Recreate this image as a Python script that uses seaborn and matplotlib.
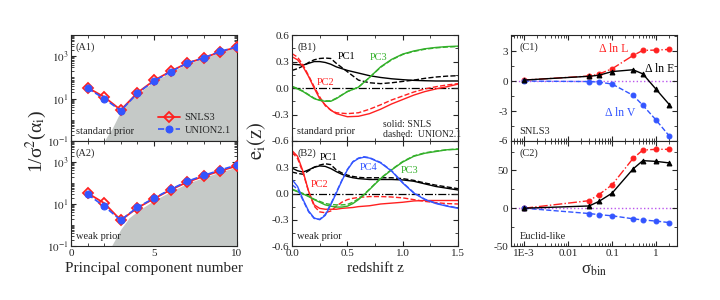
import numpy as np
import pandas as pd
import seaborn as sns
import matplotlib
matplotlib.use('Agg')
from matplotlib import pyplot as plt
from matplotlib.ticker import FixedLocator, MultipleLocator, NullFormatter

# ---------------- data ----------------
# panel A: inverse variance of PC coefficients
pc_num = [1, 2, 3, 4, 5, 6, 7, 8, 9, 10]
a1_snls = [33, 12, 2.9, 19, 72, 195, 480, 830, 1660, 2700]
a1_union = [31, 10, 2.7, 18, 68, 185, 470, 850, 1700, 2800]
a2_snls = [33, 11, 1.7, 6.5, 18, 47, 110, 210, 380, 650]
a2_union = [29, 7.8, 1.7, 7.0, 19, 50, 120, 230, 420, 720]
shade1_n = [1.9, 2, 2.5, 3, 3.5, 4, 5, 6, 7, 8, 9, 10]
shade1_v = [0.06, 0.1, 0.42, 2.6, 8, 17, 65, 175, 440, 800, 1550, 2700]
shade2_n = [2.35, 2.44, 3, 3.5, 4, 5, 6, 7, 8, 9, 10]
shade2_v = [0.05, 0.1, 0.63, 2.2, 4.5, 15, 39, 96, 185, 340, 580]

# panel B1: PC shapes, standard prior
zb = [0, 0.05, 0.1, 0.15, 0.2, 0.25, 0.3, 0.35, 0.4, 0.5, 0.6, 0.7, 0.8, 0.9,
      1.0, 1.1, 1.2, 1.3, 1.4, 1.5]
b1_pc1_s = [0.27, 0.265, 0.26, 0.28, 0.30, 0.30, 0.29, 0.27, 0.24, 0.20, 0.17, 0.14,
            0.12, 0.105, 0.095, 0.087, 0.083, 0.08, 0.08, 0.08]
b1_pc1_d = [0.20, 0.22, 0.25, 0.29, 0.32, 0.335, 0.34, 0.335, 0.28, 0.185, 0.09, 0.06,
            0.05, 0.06, 0.075, 0.09, 0.11, 0.125, 0.135, 0.14]
b1_pc2_s = [0.355, 0.32, 0.24, 0.13, 0.0, -0.12, -0.19, -0.25, -0.29, -0.325, -0.32, -0.29,
            -0.24, -0.18, -0.13, -0.08, -0.04, -0.01, 0.015, 0.045]
b1_pc2_d = [0.39, 0.35, 0.26, 0.14, 0.015, -0.10, -0.20, -0.25, -0.28, -0.29, -0.28, -0.24,
            -0.19, -0.135, -0.09, -0.045, -0.01, 0.015, 0.035, 0.05]
b1_pc3_s = [0.015, -0.01, -0.04, -0.08, -0.12, -0.14, -0.15, -0.15, -0.12, -0.04, 0.01, 0.12,
            0.24, 0.325, 0.385, 0.42, 0.445, 0.46, 0.47, 0.475]
b1_pc3_d = [0.02, -0.005, -0.035, -0.075, -0.115, -0.135, -0.145, -0.145, -0.115, -0.04, 0.01, 0.12,
            0.235, 0.32, 0.38, 0.415, 0.44, 0.455, 0.465, 0.47]

# panel B2: PC shapes, weak prior
zb2 = [0, 0.05, 0.1, 0.15, 0.2, 0.25, 0.3, 0.35, 0.4, 0.45, 0.5, 0.55, 0.6, 0.65, 0.7,
       0.8, 0.9, 1.0, 1.1, 1.2, 1.3, 1.4, 1.5]
b2_pc1_s = [0.29, 0.26, 0.245, 0.27, 0.30, 0.315, 0.31, 0.285, 0.25, 0.22, 0.195, 0.18, 0.17,
            0.165, 0.16, 0.16, 0.16, 0.155, 0.14, 0.11, 0.08, 0.06, 0.04]
b2_pc1_d = [0.245, 0.23, 0.22, 0.26, 0.30, 0.325, 0.34, 0.33, 0.27, 0.235, 0.21, 0.195, 0.185,
            0.18, 0.18, 0.18, 0.18, 0.17, 0.15, 0.12, 0.095, 0.075, 0.055]
b2_pc2_s = [0.49, 0.425, 0.25, 0.025, -0.13, -0.17, -0.18, -0.18, -0.18, -0.17, -0.165, -0.16,
            -0.15, -0.145, -0.14, -0.12, -0.11, -0.10, -0.085, -0.08, -0.08, -0.08, -0.08]
b2_pc2_d = [0.47, 0.40, 0.235, 0.02, -0.145, -0.21, -0.22, -0.20, -0.145, -0.10, -0.07, -0.055,
            -0.045, -0.04, -0.035, -0.035, -0.04, -0.05, -0.07, -0.09, -0.105, -0.115, -0.12]
b2_pc3_s = [0.045, 0.02, -0.005, -0.035, -0.07, -0.10, -0.13, -0.145, -0.155, -0.155, -0.145, -0.115,
            -0.07, -0.015, 0.045, 0.17, 0.27, 0.36, 0.425, 0.46, 0.48, 0.50, 0.505]
b2_pc3_d = [0.05, 0.025, 0.0, -0.03, -0.065, -0.09, -0.115, -0.125, -0.13, -0.13, -0.125, -0.10,
            -0.06, -0.01, 0.05, 0.175, 0.275, 0.365, 0.43, 0.465, 0.485, 0.50, 0.51]
b2_pc4_s = [0.16, 0.08, -0.07, -0.20, -0.28, -0.30, -0.25, -0.13, 0.005, 0.145, 0.27, 0.36,
            0.40, 0.415, 0.405, 0.35, 0.255, 0.12, 0.005, -0.07, -0.115, -0.145, -0.17]
b2_pc4_d = [0.10, 0.05, -0.08, -0.21, -0.285, -0.295, -0.24, -0.12, 0.015, 0.15, 0.275, 0.365,
            0.405, 0.42, 0.41, 0.355, 0.26, 0.125, 0.01, -0.065, -0.11, -0.14, -0.165]

# panel C: change of FoM vs sigma_bin
sig_bin = [0.001, 0.03, 0.05, 0.1, 0.3, 0.5, 1, 2]
c1_dlnE = [0.1, 0.48, 0.58, 0.95, 1.13, 0.72, -0.82, -2.35]
c1_dlnL = [0.1, 0.5, 0.7, 1.23, 2.56, 3.07, 3.1, 3.17]
c1_dlnV = [0.0, -0.05, -0.1, -0.3, -1.43, -2.42, -3.9, -5.5]
c2_dlnE = [0, 3, 9, 20, 52, 63, 62, 60]
c2_dlnL = [0, 10, 18, 31, 66, 77, 78, 78]
c2_dlnV = [0, -7, -8.5, -10, -14, -15.5, -17, -19]

# ---------------- style ----------------
sns.set_style('ticks')
plt.rcParams['font.family'] = ['Liberation Serif', 'DejaVu Serif']
plt.rcParams['mathtext.fontset'] = 'stix'
plt.rcParams['axes.linewidth'] = 0.8

RED = '#ff2020'
BLUE = '#3355ff'
GREEN = '#33b02a'
GREY = '#c5c9c7'
TF = 8      # tick font
LF = 7.5    # in-panel label font

fig = plt.figure(figsize=(7.2, 3.0), dpi=100)
xA, xB, xC, w = 0.0986, 0.4056, 0.7097, 0.2306
y_top, y_mid, y_bot = 0.883, 0.53, 0.18
axA1 = fig.add_axes([xA, y_mid, w, y_top - y_mid])
axA2 = fig.add_axes([xA, y_bot, w, y_mid - y_bot])
axB1 = fig.add_axes([xB, y_mid, w, y_top - y_mid])
axB2 = fig.add_axes([xB, y_bot, w, y_mid - y_bot])
axC1 = fig.add_axes([xC, y_mid, w, y_top - y_mid])
axC2 = fig.add_axes([xC, y_bot, w, y_mid - y_bot])

for ax in fig.axes:
    ax.tick_params(direction='in', which='both', top=True, right=True, labelsize=TF, pad=2)
    ax.tick_params(which='major', length=3.5)
    ax.tick_params(which='minor', length=2)


# ---------------- panel A ----------------
def panel_a(ax, snls, union, sn, sv, tag, prior):
    ax.fill_between(sn, sv, 1e-3, color=GREY, lw=0, zorder=1)
    sns.lineplot(x=pc_num, y=snls, ax=ax, color=RED, lw=1.3, marker='D', markersize=5.5,
                 markerfacecolor='none', markeredgecolor=RED, markeredgewidth=1.3,
                 label='SNLS3', zorder=3)
    sns.lineplot(x=pc_num, y=union, ax=ax, color=BLUE, lw=1.2, linestyle='--', marker='o',
                 markersize=5, markerfacecolor=BLUE, markeredgecolor=BLUE, label='UNION2.1', zorder=4)
    ax.set_yscale('log')
    ax.set_xlim(0, 10)
    ax.set_ylim(0.1, 1e4)
    ax.yaxis.set_major_locator(FixedLocator([0.1, 10, 1000]))
    ax.yaxis.set_minor_locator(FixedLocator([m * 10.0 ** k for k in range(-1, 4) for m in range(1, 10)]))
    ax.yaxis.set_minor_formatter(NullFormatter())
    ax.set_yticklabels([r'$10^{-1}$', r'$10^{1}$', r'$10^{3}$'])
    ax.xaxis.set_major_locator(FixedLocator([0, 5, 10]))
    ax.xaxis.set_minor_locator(MultipleLocator(1))
    ax.text(0.03, 0.93, tag, transform=ax.transAxes, fontsize=LF, va='top')
    ax.text(0.03, 0.05, prior, transform=ax.transAxes, fontsize=LF, va='bottom')
    ax.set_xlabel('')
    ax.set_ylabel('')


panel_a(axA1, a1_snls, a1_union, shade1_n, shade1_v, '(A1)', 'standard prior')
panel_a(axA2, a2_snls, a2_union, shade2_n, shade2_v, '(A2)', 'weak prior')
axA1.set_xticklabels([])
axA1.legend(loc='lower right', frameon=False, fontsize=LF, handlelength=2.2,
            borderaxespad=0.2, labelspacing=0.3, handletextpad=0.4)
axA2.get_legend().remove()
axA2.set_xticklabels(['0', '5', '10'])
axA2.set_xlabel('Principal component number', fontsize=11, labelpad=3)
fig.text(0.05, 0.53, r'1/σ$^{\rm 2}$(α$_{\rm i}$)', rotation=90, fontsize=14, ha='center', va='center')


# ---------------- panel B ----------------
def curve(ax, z, v, color, ls):
    sns.lineplot(x=z, y=v, ax=ax, color=color, lw=1.0, linestyle=ls)


curve(axB1, zb, b1_pc1_s, 'black', '-')
curve(axB1, zb, b1_pc1_d, 'black', '--')
curve(axB1, zb, b1_pc2_s, RED, '-')
curve(axB1, zb, b1_pc2_d, RED, '--')
curve(axB1, zb, b1_pc3_s, GREEN, '-')
curve(axB1, zb, b1_pc3_d, GREEN, '--')

curve(axB2, zb2, b2_pc1_s, 'black', '-')
curve(axB2, zb2, b2_pc1_d, 'black', '--')
curve(axB2, zb2, b2_pc2_s, RED, '-')
curve(axB2, zb2, b2_pc2_d, RED, '--')
curve(axB2, zb2, b2_pc3_s, GREEN, '-')
curve(axB2, zb2, b2_pc3_d, GREEN, '--')
curve(axB2, zb2, b2_pc4_s, BLUE, '-')
curve(axB2, zb2, b2_pc4_d, BLUE, '--')

for ax in (axB1, axB2):
    ax.axhline(0, color='black', lw=0.9, linestyle='-.', zorder=0)
    ax.set_xlim(0, 1.5)
    ax.set_ylim(-0.6, 0.6)
    ax.yaxis.set_major_locator(FixedLocator([-0.6, -0.3, 0.0, 0.3, 0.6]))
    ax.yaxis.set_minor_locator(MultipleLocator(0.15))
    ax.xaxis.set_major_locator(FixedLocator([0, 0.5, 1.0, 1.5]))
    ax.xaxis.set_minor_locator(MultipleLocator(0.25))
    ax.set_yticklabels(['-0.6', '-0.3', '0.0', '0.3', '0.6'])
    ax.set_xlabel('')
    ax.set_ylabel('')
axB2.set_yticklabels(['-0.6', '-0.3', '0.0', '0.3', ''])
axB1.set_xticklabels([])
axB2.set_xticklabels(['0.0', '0.5', '1.0', '1.5'])
axB2.set_xlabel('redshift z', fontsize=11, labelpad=3)
fig.text(0.357, 0.53, r'$\mathrm{e_i(z)}$', rotation=90, fontsize=15, ha='center', va='center')

axB1.text(0.03, 0.93, '(B1)', transform=axB1.transAxes, fontsize=LF, va='top')
axB1.text(0.03, 0.05, 'standard prior', transform=axB1.transAxes, fontsize=LF, va='bottom')
axB1.text(0.41, 0.36, 'PC1', color='black', fontsize=LF, va='center')
axB1.text(0.22, 0.06, 'PC2', color=RED, fontsize=LF, va='center')
axB1.text(0.70, 0.35, 'PC3', color=GREEN, fontsize=LF, va='center')
axB1.text(0.82, -0.41, 'solid: SNLS', fontsize=LF - 0.5, va='center')
axB1.text(0.82, -0.53, 'dashed:  UNION2.1', fontsize=LF - 0.5, va='center')

axB2.text(0.03, 0.93, '(B2)', transform=axB2.transAxes, fontsize=LF, va='top')
axB2.text(0.03, 0.05, 'weak prior', transform=axB2.transAxes, fontsize=LF, va='bottom')
axB2.text(0.25, 0.41, 'PC1', color='black', fontsize=LF, va='center')
axB2.text(0.17, 0.10, 'PC2', color=RED, fontsize=LF, va='center')
axB2.text(0.61, 0.30, 'PC4', color=BLUE, fontsize=LF, va='center')
axB2.text(0.98, 0.26, 'PC3', color=GREEN, fontsize=LF, va='center')


# ---------------- panel C ----------------
def panel_c(ax, e, l, v):
    ax.axhline(0, color='#bb55ee', lw=1.0, linestyle=':', zorder=0)
    sns.lineplot(x=sig_bin, y=l, ax=ax, color=RED, lw=1.0, linestyle='-.', marker='o',
                 markersize=3.5, markeredgecolor=RED)
    sns.lineplot(x=sig_bin, y=v, ax=ax, color=BLUE, lw=1.0, linestyle='--', marker='o',
                 markersize=3.5, markeredgecolor=BLUE)
    sns.lineplot(x=sig_bin, y=e, ax=ax, color='black', lw=1.0, linestyle='-', marker='^',
                 markersize=3.5, markeredgecolor='black')
    ax.set_xscale('log')
    ax.set_xlim(5e-4, 3.0)
    ax.xaxis.set_major_locator(FixedLocator([1e-3, 1e-2, 1e-1, 1]))
    ax.xaxis.set_minor_locator(FixedLocator([m * 10.0 ** k for k in range(-4, 1) for m in range(2, 10)]))
    ax.xaxis.set_minor_formatter(NullFormatter())
    ax.set_xlabel('')
    ax.set_ylabel('')


panel_c(axC1, c1_dlnE, c1_dlnL, c1_dlnV)
panel_c(axC2, c2_dlnE, c2_dlnL, c2_dlnV)
axC1.set_ylim(-6, 4.6)
axC1.yaxis.set_major_locator(FixedLocator([-6, -3, 0, 3]))
axC1.yaxis.set_minor_locator(MultipleLocator(1.5))
axC1.set_yticklabels(['-6', '-3', '0', '3'])
axC1.set_xticklabels([])
axC2.set_ylim(-50, 89)
axC2.yaxis.set_major_locator(FixedLocator([-50, 0, 50]))
axC2.yaxis.set_minor_locator(MultipleLocator(25))
axC2.set_yticklabels(['-50', '0', '50'])
axC2.set_xticklabels(['1E-3', '0.01', '0.1', '1'])
axC2.set_xlabel(r'σ$_{\rm bin}$', fontsize=12, labelpad=3)

axC1.text(0.05, 0.93, '(C1)', transform=axC1.transAxes, fontsize=LF, va='top')
axC1.text(0.05, 0.05, 'SNLS3', transform=axC1.transAxes, fontsize=LF, va='bottom')
axC1.text(0.05, 3.2, 'Δ ln L', color=RED, fontsize=LF + 1, va='center')
axC1.text(0.56, 1.2, 'Δ ln E', color='black', fontsize=LF + 1, va='center')
axC1.text(0.07, -3.2, 'Δ ln V', color=BLUE, fontsize=LF + 1, va='center')
axC2.text(0.05, 0.93, '(C2)', transform=axC2.transAxes, fontsize=LF, va='top')
axC2.text(0.05, 0.05, 'Euclid-like', transform=axC2.transAxes, fontsize=LF, va='bottom')

fig.savefig('out.png', dpi=100)
